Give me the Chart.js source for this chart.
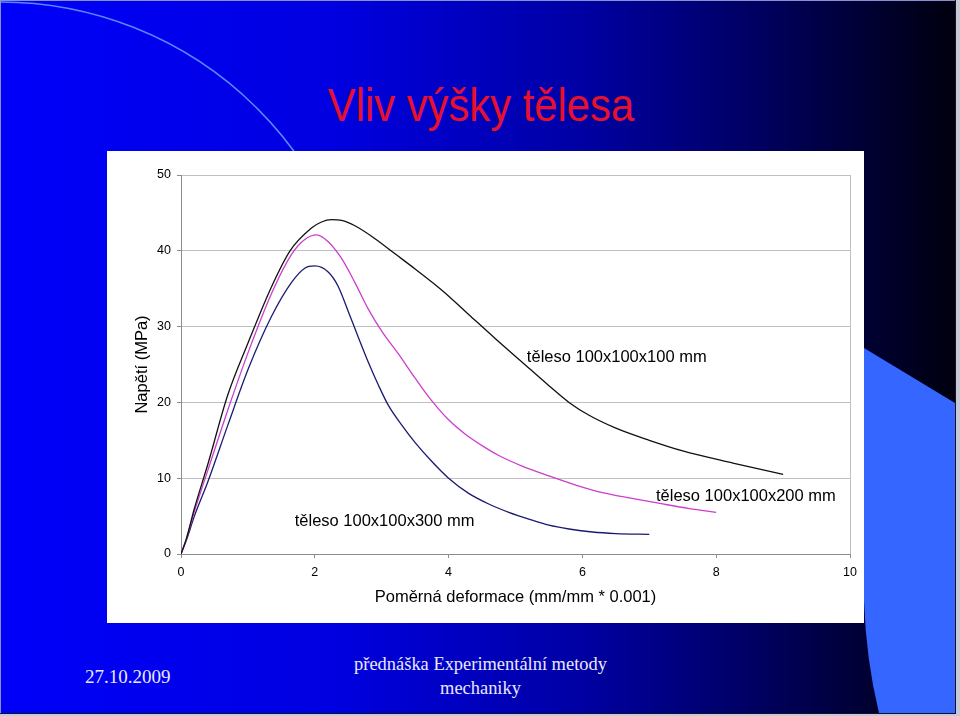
<!DOCTYPE html>
<html>
<head>
<meta charset="utf-8">
<script src="https://cdn.jsdelivr.net/npm/chart.js@4.4.0/dist/chart.umd.min.js"></script>
<style>
  html, body { margin: 0; padding: 0; }
  body { width: 960px; height: 716px; overflow: hidden; background: #c9c9d6; position: relative; }
  #slide { position: absolute; left: 0; top: 0; width: 955px; height: 713px; overflow: hidden;
           border-right: 1px solid #101030; border-bottom: 1px solid #101030; }
  #bg { position: absolute; left: 0; top: 0; }
  #title { position: absolute; left: 0; top: 82px; width: 962px; text-align: center;
           font-family: "Liberation Sans", Arial, sans-serif; font-size: 46.6px; line-height: 1;
           color: #E8112D; transform: scaleX(0.896); transform-origin: 481px 0; white-space: nowrap; }
  #box { position: absolute; left: 107px; top: 151px; width: 757px; height: 472px; background: #ffffff; }
  .foot { position: absolute; font-family: "Liberation Serif", "Times New Roman", serif; font-size: 19px;
          line-height: 23.5px; color: #E8E8FF; white-space: nowrap; }
  #date { left: 85px; top: 665px; }
  #lect { left: 0; width: 961px; top: 652px; text-align: center; transform: scaleX(0.97); transform-origin: 480.5px 0; }
</style>
</head>
<body>
<div id="slide">
  <svg id="bg" width="955" height="713" xmlns="http://www.w3.org/2000/svg">
    <defs>
      <linearGradient id="g" x1="0" y1="0" x2="1" y2="0">
        <stop offset="0" stop-color="#0000FA"/>
        <stop offset="0.35" stop-color="#0000E0"/>
        <stop offset="0.6" stop-color="#0000A6"/>
        <stop offset="0.8" stop-color="#00005E"/>
        <stop offset="1" stop-color="#00000E"/>
      </linearGradient>
    </defs>
    <rect x="0" y="0" width="955" height="713" fill="url(#g)"/>
    <path d="M 0 2 A 364 364 0 0 1 364 366" fill="none" stroke="#5B86FF" stroke-width="1.5"/>
    <path d="M 864 348 L 955 403 L 955 713 L 879 713 Q 866 660 864 600 Z" fill="#3566FF"/>
    <line x1="0" y1="0.5" x2="955" y2="0.5" stroke="#8890d0" stroke-width="1"/>
    <line x1="0.5" y1="0" x2="0.5" y2="713" stroke="#8890d0" stroke-width="1"/>
  </svg>
  <div id="title">Vliv výšky tělesa</div>
  <div id="box"><canvas id="c" width="757" height="472"></canvas></div>
  <div id="date" class="foot">27.10.2009</div>
  <div id="lect" class="foot">přednáška Experimentální metody<br>mechaniky</div>
</div>
<script>
// ---- data ----
const xTicks = [0, 2, 4, 6, 8, 10];
const yTicks = [0, 10, 20, 30, 40, 50];

const seriesNames = ['těleso 100x100x100 mm', 'těleso 100x100x200 mm', 'těleso 100x100x300 mm'];

const x100 = [0, 0.08, 0.2, 0.4, 0.7, 1.0, 1.35, 1.63, 1.95, 2.1, 2.25, 2.4, 2.6, 2.9, 3.2, 3.5, 3.9, 4.3, 4.7, 5.1, 5.5, 5.8, 6.1, 6.5, 7.0, 7.5, 8.25, 9.0];
const y100 = [0, 2.0, 6.0, 11.8, 21.0, 27.8, 35.2, 40.0, 43.0, 43.8, 44.1, 44.0, 43.3, 41.6, 39.6, 37.6, 34.8, 31.6, 28.4, 25.3, 22.2, 20.0, 18.3, 16.6, 15.0, 13.6, 12.0, 10.5];

const x200 = [0, 0.08, 0.2, 0.4, 0.7, 1.0, 1.35, 1.65, 1.85, 2.03, 2.2, 2.4, 2.6, 2.8, 3.0, 3.25, 3.5, 3.75, 4.0, 4.25, 4.5, 4.75, 5.1, 5.5, 5.9, 6.3, 6.7, 7.2, 7.6, 8.0];
const y200 = [0, 2.0, 5.6, 11.0, 19.0, 26.5, 34.3, 39.5, 41.5, 42.1, 41.2, 39.0, 35.8, 32.3, 29.4, 26.4, 23.2, 20.2, 17.7, 15.8, 14.3, 13.0, 11.6, 10.3, 9.1, 8.1, 7.4, 6.6, 6.0, 5.5];

const x300 = [0, 0.08, 0.2, 0.4, 0.7, 1.0, 1.35, 1.65, 1.85, 2.0, 2.2, 2.35, 2.5, 2.65, 2.8, 2.95, 3.1, 3.3, 3.5, 3.75, 4.0, 4.3, 4.6, 4.9, 5.2, 5.5, 5.8, 6.15, 6.5, 7.0];
const y300 = [0, 1.8, 5.0, 9.5, 17.0, 24.3, 31.3, 35.8, 37.7, 38.0, 37.2, 35.3, 32.0, 28.6, 25.3, 22.3, 19.6, 17.0, 14.7, 12.2, 10.0, 8.0, 6.6, 5.5, 4.6, 3.8, 3.3, 2.9, 2.7, 2.6];

// label anchor positions (data units)
const labelX = [5.17, 7.10, 1.70];
const labelY = [25.9, 7.65, 4.35];

const xTitle = 'Poměrná deformace (mm/mm * 0.001)';
const yTitle = 'Napětí (MPa)';

// ---- chart ----
const pts = (xs, ys) => xs.map((x, i) => ({ x: x, y: ys[i] }));
const FONT = '"Liberation Sans", Arial, sans-serif';
Chart.defaults.font.family = FONT;
Chart.defaults.color = '#000000';

const labelPlugin = {
  id: 'seriesLabels',
  afterDatasetsDraw(chart) {
    const { ctx, scales } = chart;
    ctx.save();
    ctx.font = '16.5px ' + FONT;
    ctx.fillStyle = '#000000';
    ctx.textAlign = 'left';
    ctx.textBaseline = 'middle';
    seriesNames.forEach((t, i) => {
      ctx.fillText(t, scales.x.getPixelForValue(labelX[i]), scales.y.getPixelForValue(labelY[i]));
    });
    ctx.restore();
  }
};

const common = { pointRadius: 0, borderWidth: 1.3, fill: false, cubicInterpolationMode: 'monotone' };

new Chart(document.getElementById('c'), {
  type: 'line',
  data: {
    datasets: [
      Object.assign({ label: seriesNames[0], data: pts(x100, y100), borderColor: '#111111' }, common),
      Object.assign({ label: seriesNames[1], data: pts(x200, y200), borderColor: '#CC3FCC' }, common),
      Object.assign({ label: seriesNames[2], data: pts(x300, y300), borderColor: '#1A1A70' }, common)
    ]
  },
  options: {
    responsive: false,
    animation: false,
    devicePixelRatio: 1,
    layout: { padding: { left: 0, top: 24, right: 14, bottom: 0 } },
    plugins: { legend: { display: false }, tooltip: { enabled: false } },
    scales: {
      x: {
        type: 'linear',
        min: xTicks[0], max: xTicks[xTicks.length - 1],
        afterBuildTicks: (s) => { s.ticks = xTicks.map(v => ({ value: v })); },
        afterFit: (s) => { s.height = 69; },
        ticks: { font: { size: 12.5 }, color: '#000000', padding: 7, maxRotation: 0 },
        grid: {
          color: (c) => (c.tick && c.tick.value === 10) ? '#C0C0C0' : 'rgba(0,0,0,0)',
          tickColor: '#8C8C8C', tickLength: 4, lineWidth: 1
        },
        border: { color: '#8C8C8C', width: 1 },
        title: { display: true, text: xTitle, font: { size: 16.5 }, color: '#000000', padding: { top: 0, bottom: 16 } }
      },
      y: {
        type: 'linear',
        min: yTicks[0], max: yTicks[yTicks.length - 1],
        afterBuildTicks: (s) => { s.ticks = yTicks.map(v => ({ value: v })); },
        afterFit: (s) => { s.width = 74; },
        ticks: { font: { size: 12.5 }, color: '#000000', padding: 6 },
        grid: { color: '#C0C0C0', tickColor: '#8C8C8C', tickLength: 4, lineWidth: 1 },
        border: { color: '#8C8C8C', width: 1 },
        title: { display: true, text: yTitle, font: { size: 16.5 }, color: '#000000', padding: { top: 26, bottom: 0 } }
      }
    }
  },
  plugins: [labelPlugin]
});
</script>
</body>
</html>
